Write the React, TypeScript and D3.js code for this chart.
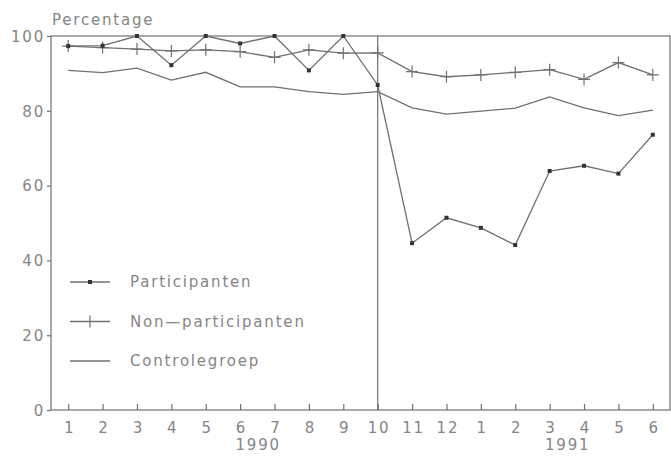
import React, { useEffect, useRef } from "react";
import * as d3 from "d3";

const months = ["1", "2", "3", "4", "5", "6", "7", "8", "9", "10", "11", "12", "1", "2", "3", "4", "5", "6"];
const years = [
  { label: "1990", from: 0, to: 11 },
  { label: "1991", from: 12, to: 17 },
];
const participanten = [97.3, 97.4, 100, 92.2, 100, 98, 100, 90.8, 100, 86.9, 44.6, 51.4, 48.7, 44.1, 63.9, 65.3, 63.2, 73.6];
const nonParticipanten = [97.3, 96.9, 96.5, 96, 96.3, 95.8, 94.3, 96.3, 95.4, 95.5, 90.5, 89.1, 89.6, 90.3, 91, 88.4, 92.9, 89.6];
const controlegroep = [90.8, 90.2, 91.4, 88.2, 90.3, 86.4, 86.4, 85.1, 84.4, 85.1, 80.8, 79.1, 79.9, 80.7, 83.7, 80.8, 78.7, 80.2];
const yTicks = [0, 20, 40, 60, 80, 100];
const legendItems = [
  { name: "Participanten", marker: "dot" },
  { name: "Non\u2014participanten", marker: "plus" },
  { name: "Controlegroep", marker: "none" },
];

const W = 671;
const H = 460;
const lineColor = "#707070";
const textColor = "#858585";
const font = "'DejaVu Sans', sans-serif";
const spacing = 1.8;

export default function App() {
  const ref = useRef<SVGSVGElement>(null);

  useEffect(() => {
    const svg = d3.select(ref.current);
    svg.selectAll("*").remove();

    const left = 51, right = 670, top = 36, bottom = 410;
    const idx = months.map((_, i) => i);
    const x = d3.scaleLinear().domain([-0.5, months.length - 0.5]).range([left, right]);
    const y = d3.scaleLinear().domain([0, 100]).range([bottom, top]);

    const styleText = (sel: any) =>
      sel.attr("fill", textColor).attr("font-family", font).attr("font-size", 15)
        .attr("letter-spacing", spacing);

    // frame
    svg.append("rect")
      .attr("x", left).attr("y", top)
      .attr("width", right - left).attr("height", bottom - top)
      .attr("fill", "none").attr("stroke", lineColor).attr("stroke-width", 1.2);

    // divider at month 10
    svg.append("line")
      .attr("x1", x(9)).attr("x2", x(9))
      .attr("y1", top).attr("y2", bottom)
      .attr("stroke", lineColor).attr("stroke-width", 1.2);

    // y axis
    const yAxis = d3.axisLeft(y).tickValues(yTicks).tickSize(4).tickPadding(6);
    const gy = svg.append("g").attr("transform", `translate(${left},0)`).call(yAxis);
    gy.select(".domain").remove();
    gy.selectAll("line").attr("stroke", lineColor).attr("stroke-width", 1.2);
    styleText(gy.selectAll("text")).attr("dy", "0.35em").attr("x", -6);

    // x axis with inward ticks
    const xAxis = d3.axisBottom(x).tickValues(idx).tickFormat((i) => months[i as number]).tickSize(-6).tickPadding(10);
    const gx = svg.append("g").attr("transform", `translate(0,${bottom})`).call(xAxis);
    gx.select(".domain").remove();
    gx.selectAll("line").attr("stroke", lineColor).attr("stroke-width", 1.2);
    styleText(gx.selectAll("text")).attr("y", 10).attr("dy", "0.85em").attr("dx", spacing / 2);

    styleText(
      svg.append("g").selectAll("text").data(years).join("text")
        .attr("x", (d) => (x(d.from) + x(d.to)) / 2 + spacing / 2)
        .attr("y", 450)
        .attr("text-anchor", "middle")
        .text((d) => d.label)
    );

    styleText(svg.append("text").attr("x", 52).attr("y", 25).text("Percentage"));

    const line = d3.line<number>().x((_, i) => x(i)).y((d) => y(d));

    const drawSeries = (data: number[]) =>
      svg.append("path").datum(data)
        .attr("fill", "none").attr("stroke", lineColor).attr("stroke-width", 1.3)
        .attr("d", line);

    drawSeries(controlegroep);
    drawSeries(nonParticipanten);
    drawSeries(participanten);

    // plus markers
    svg.append("g").selectAll("path").data(nonParticipanten).join("path")
      .attr("d", (d, i) => `M${x(i) - 6},${y(d)}h12M${x(i)},${y(d) - 6}v12`)
      .attr("stroke", lineColor).attr("stroke-width", 1.2);

    // dot markers
    svg.append("g").selectAll("rect").data(participanten).join("rect")
      .attr("x", (_, i) => x(i) - 2).attr("y", (d) => y(d) - 2)
      .attr("width", 4).attr("height", 4)
      .attr("fill", "#333");

    // legend
    const lg = svg.append("g").selectAll("g").data(legendItems).join("g")
      .attr("transform", (_, i) => `translate(70,${282 + i * 39.5})`);
    lg.append("line").attr("x1", 0).attr("x2", 40)
      .attr("stroke", lineColor).attr("stroke-width", 1.3);
    lg.filter((d) => d.marker === "dot").append("rect")
      .attr("x", 18).attr("y", -2).attr("width", 4).attr("height", 4).attr("fill", "#333");
    lg.filter((d) => d.marker === "plus").append("path")
      .attr("d", "M20,-6v12").attr("stroke", lineColor).attr("stroke-width", 1.2);
    styleText(lg.append("text").attr("x", 60).attr("dy", "0.35em").text((d) => d.name));
  }, []);

  return (
    <svg ref={ref} width={W} height={H} style={{ position: "absolute", left: 0, top: 0, background: "#fff" }} />
  );
}
